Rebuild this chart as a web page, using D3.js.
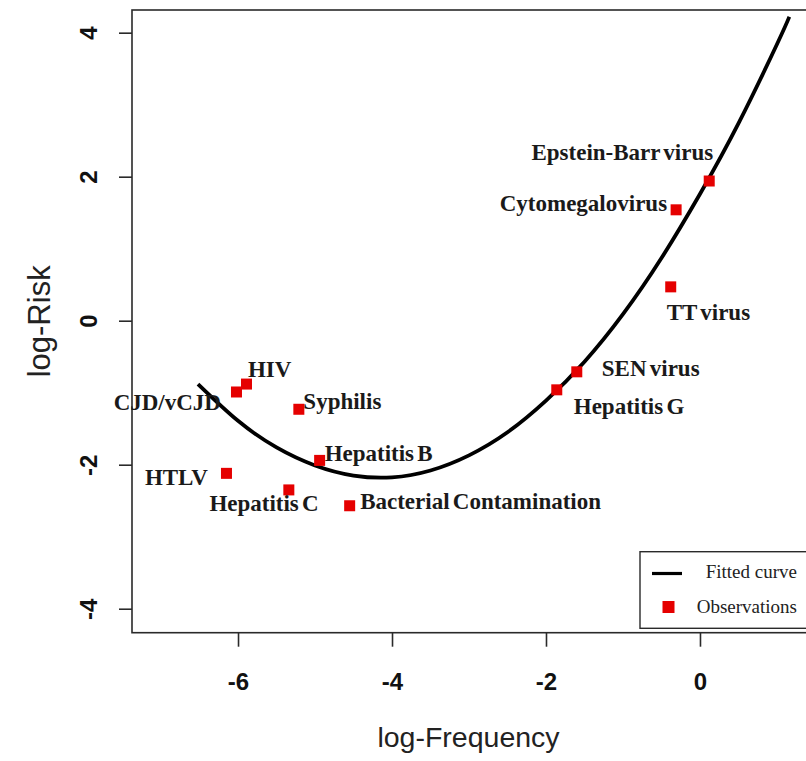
<!DOCTYPE html>
<html>
<head>
<meta charset="utf-8">
<script src="https://cdn.jsdelivr.net/npm/d3@7"></script>
<style>
  html, body { margin: 0; padding: 0; background: #fff; }
  svg { display: block; }
</style>
</head>
<body>
<svg id="chart" width="806" height="761"></svg>
<script>
// Transfusion-transmitted pathogens: log-frequency vs log-risk
const pathogens = [
  "Epstein-Barr virus", "Cytomegalovirus", "TT virus", "SEN virus",
  "Hepatitis G", "Hepatitis B", "Bacterial Contamination", "Syphilis",
  "HIV", "CJD/vCJD", "HTLV", "Hepatitis C"
];
const logFrequency = [0.12, -0.31, -0.38, -1.60, -1.86, -4.94, -4.55, -5.21, -5.89, -6.02, -6.15, -5.34];
const logRisk      = [1.94, 1.54, 0.47, -0.71, -0.96, -1.94, -2.57, -1.23, -0.88, -0.99, -2.12, -2.35];

// Fitted curve, traced along its length
const curveFrequency = [-6.52, -6.0, -5.5, -5.0, -4.5, -4.0, -3.5, -3.0, -2.5, -2.0, -1.5, -1.0, -0.5, 0.0, 0.5, 1.0, 1.16];
const curveRisk      = [-0.88, -1.39, -1.76, -2.01, -2.15, -2.175, -2.08, -1.87, -1.55, -1.11, -0.57, 0.09, 0.87, 1.76, 2.74, 3.84, 4.22];

const xTicks = [-6, -4, -2, 0];
const yTicks = [-4, -2, 0, 2, 4];

const legendLabels = ["Fitted curve", "Observations"];

// Label placement for each pathogen: [text-anchor, dx, dy] in pixels from the marker
const labelLayout = [
  ["end", 4, -21.5], ["end", -9, 1.5], ["start", -4, 33.5], ["start", 25, 4.5],
  ["start", 17, 24], ["start", 5, 0.5], ["start", 10.5, 2.8], ["start", 4.5, -0.5],
  ["start", 1.5, -7.5], ["end", -15.5, 18.5], ["end", -18.5, 11.5], ["middle", -24.8, 20.7]
];

const RED = "#e50000";
const FRAME = "#2a2a2a";

const svg = d3.select("#chart");
const plot = { left: 132, right: 807, top: 10, bottom: 632.7 };

const x = d3.scaleLinear().domain([-7.377, 1.39]).range([plot.left, plot.right]);
const y = d3.scaleLinear().domain([-4.333, 4.315]).range([plot.bottom, plot.top]);

// Plot frame
svg.append("rect")
  .attr("x", plot.left).attr("y", plot.top)
  .attr("width", plot.right - plot.left).attr("height", plot.bottom - plot.top)
  .attr("fill", "none").attr("stroke", FRAME).attr("stroke-width", 1.6);

// X axis
const xAxis = svg.append("g")
  .attr("transform", `translate(0,${plot.bottom})`)
  .call(d3.axisBottom(x).tickValues(xTicks).tickSize(14).tickFormat(d => String(d)));
xAxis.select(".domain").remove();
xAxis.selectAll(".tick line").attr("stroke", FRAME).attr("stroke-width", 1.6);
xAxis.selectAll(".tick text")
  .attr("y", 57).attr("dy", 0)
  .attr("fill", "#111")
  .style("font-family", "'Liberation Sans', Arial, sans-serif")
  .style("font-weight", "bold").style("font-size", "24px");

// Y axis (labels rotated, reading upward)
const yAxis = svg.append("g")
  .attr("transform", `translate(${plot.left},0)`)
  .call(d3.axisLeft(y).tickValues(yTicks).tickSize(13).tickFormat(d => String(d)));
yAxis.select(".domain").remove();
yAxis.selectAll(".tick line").attr("stroke", FRAME).attr("stroke-width", 1.6);
yAxis.selectAll(".tick text")
  .attr("transform", "rotate(-90)")
  .attr("x", 0).attr("y", -35).attr("dy", 0)
  .attr("text-anchor", "middle")
  .attr("fill", "#111")
  .style("font-family", "'Liberation Sans', Arial, sans-serif")
  .style("font-weight", "bold").style("font-size", "24px");

// Axis titles
svg.append("text")
  .attr("x", (plot.left + plot.right) / 2 - 1).attr("y", 747)
  .attr("text-anchor", "middle")
  .style("font-family", "'Liberation Sans', Arial, sans-serif")
  .style("font-size", "28.5px").attr("fill", "#222")
  .text("log-Frequency");

svg.append("text")
  .attr("transform", `translate(50,${(plot.top + plot.bottom) / 2}) rotate(-90)`)
  .attr("text-anchor", "middle")
  .style("font-family", "'Liberation Sans', Arial, sans-serif")
  .style("font-size", "31px").attr("fill", "#222")
  .text("log-Risk");

// Fitted curve
const curvePoints = curveFrequency.map((f, i) => [f, curveRisk[i]]);
svg.append("path")
  .datum(curvePoints)
  .attr("fill", "none")
  .attr("stroke", "#000")
  .attr("stroke-width", 3.8)
  .attr("d", d3.line().x(d => x(d[0])).y(d => y(d[1])).curve(d3.curveNatural));

// Observations
const obs = pathogens.map((name, i) => ({ name, f: logFrequency[i], r: logRisk[i], layout: labelLayout[i] }));
const SQ = 11;
svg.append("g").selectAll("rect")
  .data(obs).join("rect")
  .attr("x", d => x(d.f) - SQ / 2).attr("y", d => y(d.r) - SQ / 2)
  .attr("width", SQ).attr("height", SQ)
  .attr("fill", RED);

svg.append("g").selectAll("text")
  .data(obs).join("text")
  .attr("x", d => x(d.f) + d.layout[1])
  .attr("y", d => y(d.r) + d.layout[2])
  .attr("text-anchor", d => d.layout[0])
  .style("font-family", "'Liberation Serif', 'Times New Roman', serif")
  .style("font-weight", "bold").style("font-size", "23px")
  .style("word-spacing", "-2.5px")
  .attr("fill", "#1a1a1a")
  .text(d => d.name);

// Legend
const legend = svg.append("g");
legend.append("rect")
  .attr("x", 640).attr("y", 551.7).attr("width", 200).attr("height", 76.6)
  .attr("fill", "#fff").attr("stroke", FRAME).attr("stroke-width", 1.4);
legend.append("line")
  .attr("x1", 652).attr("x2", 682).attr("y1", 573.5).attr("y2", 573.5)
  .attr("stroke", "#000").attr("stroke-width", 3.2);
legend.append("rect")
  .attr("x", 662.5).attr("y", 601).attr("width", 12).attr("height", 12)
  .attr("fill", RED);
legend.selectAll("text.leg")
  .data(legendLabels).join("text")
  .attr("class", "leg")
  .attr("x", 797).attr("y", (d, i) => 578 + i * 35)
  .attr("text-anchor", "end")
  .style("font-family", "'Liberation Serif', 'Times New Roman', serif")
  .style("font-size", "19px").attr("fill", "#222")
  .text(d => d);
</script>
</body>
</html>
